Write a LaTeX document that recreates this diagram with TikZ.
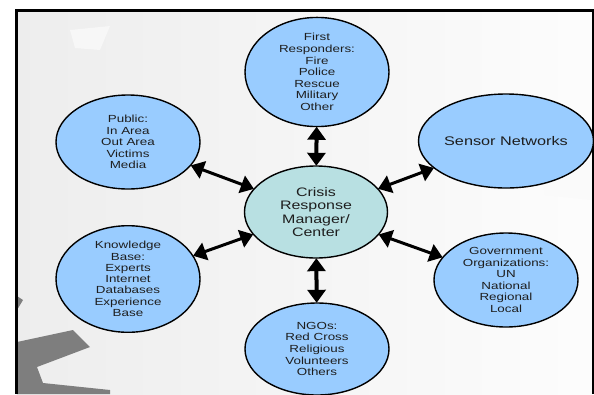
\documentclass[tikz,border=0pt]{standalone}
\usepackage{fontspec}
\setmainfont{Liberation Sans}[FakeStretch=1.3]
\usetikzlibrary{shapes.geometric,arrows.meta}
\definecolor{bubble}{HTML}{99CCFF}
\definecolor{hub}{HTML}{B8E0E2}
\definecolor{ink}{HTML}{1E1E1E}
\definecolor{gear}{HTML}{7E7E7E}
\tikzset{
  bub/.style={ellipse, draw=black, line width=1.4pt, fill=bubble, inner sep=0pt,
    minimum width=144pt, minimum height=94pt, align=center, text=ink,
    font=\fontsize{10.3}{11.6}\selectfont},
  hubstyle/.style={bub, fill=hub, minimum width=143pt, minimum height=92pt,
    font=\fontsize{12.3}{13.3}\selectfont},
  link/.style={line width=3pt, {Triangle[length=13pt,width=18pt]}-{Triangle[length=13pt,width=18pt]}, shorten <=-0.5pt, shorten >=-0.5pt},
  vlink/.style={link, line width=4pt}
}
\begin{document}
\begin{tikzpicture}[x=1pt,y=-1pt]
\useasboundingbox (0,0) rectangle (594,394);
\clip (0,0) rectangle (594,394);
% background
\shade[left color=black!7, right color=black!1] (16.5,10.5) rectangle (593,394);
\fill[black!3] (70,30) -- (110,26) -- (100,50) -- (75,48) -- cycle;
\fill[black!2] (540,170) -- (592,160) -- (592,200) -- (545,195) -- cycle;
% dark gear fragment bottom-left
\fill[gear] (17,342) -- (73,330) -- (90,347) -- (37,367) -- (43,383) -- (110,390) -- (110,394) -- (17,394) -- cycle;
\fill[gear] (17,296) -- (23,300) -- (17,310) -- cycle;
% frame
\draw[line width=3pt] (15,10.5) -- (594,10.5);
\draw[line width=3pt] (16.5,9) -- (16.5,394);
\draw[line width=1.5pt] (593,9) -- (593,394);
% nodes
\node[hubstyle] (crm) at (316,212) {Crisis\\Response\\Manager/\\Center};
\node[bub, minimum height=96pt] (first) at (317,72) {First\\Responders:\\Fire\\Police\\Rescue\\Military\\Other};
\node[bub] (pub) at (128,142) {Public:\\In Area\\Out Area\\Victims\\Media};
\node[bub, font=\fontsize{12.5}{14}\selectfont] (sens) at (506,141) {Sensor Networks};
\node[bub, minimum height=92pt, font=\fontsize{10.3}{11.3}\selectfont] (know) at (128,279) {Knowledge\\Base:\\Experts\\Internet\\Databases\\Experience\\Base};
\node[bub] (gov) at (506,280) {Government\\Organizations:\\UN\\National\\Regional\\Local};
\node[bub, minimum height=92pt] (ngo) at (317,349) {NGOs:\\Red Cross\\Religious\\Volunteers\\Others};
% connectors
\draw[vlink] (first) -- (crm);
\draw[vlink] (crm) -- (ngo);
\draw[link] (pub) -- (crm);
\draw[link] (sens) -- (crm);
\draw[link] (know) -- (crm);
\draw[link] (gov) -- (crm);
\end{tikzpicture}
\end{document}
